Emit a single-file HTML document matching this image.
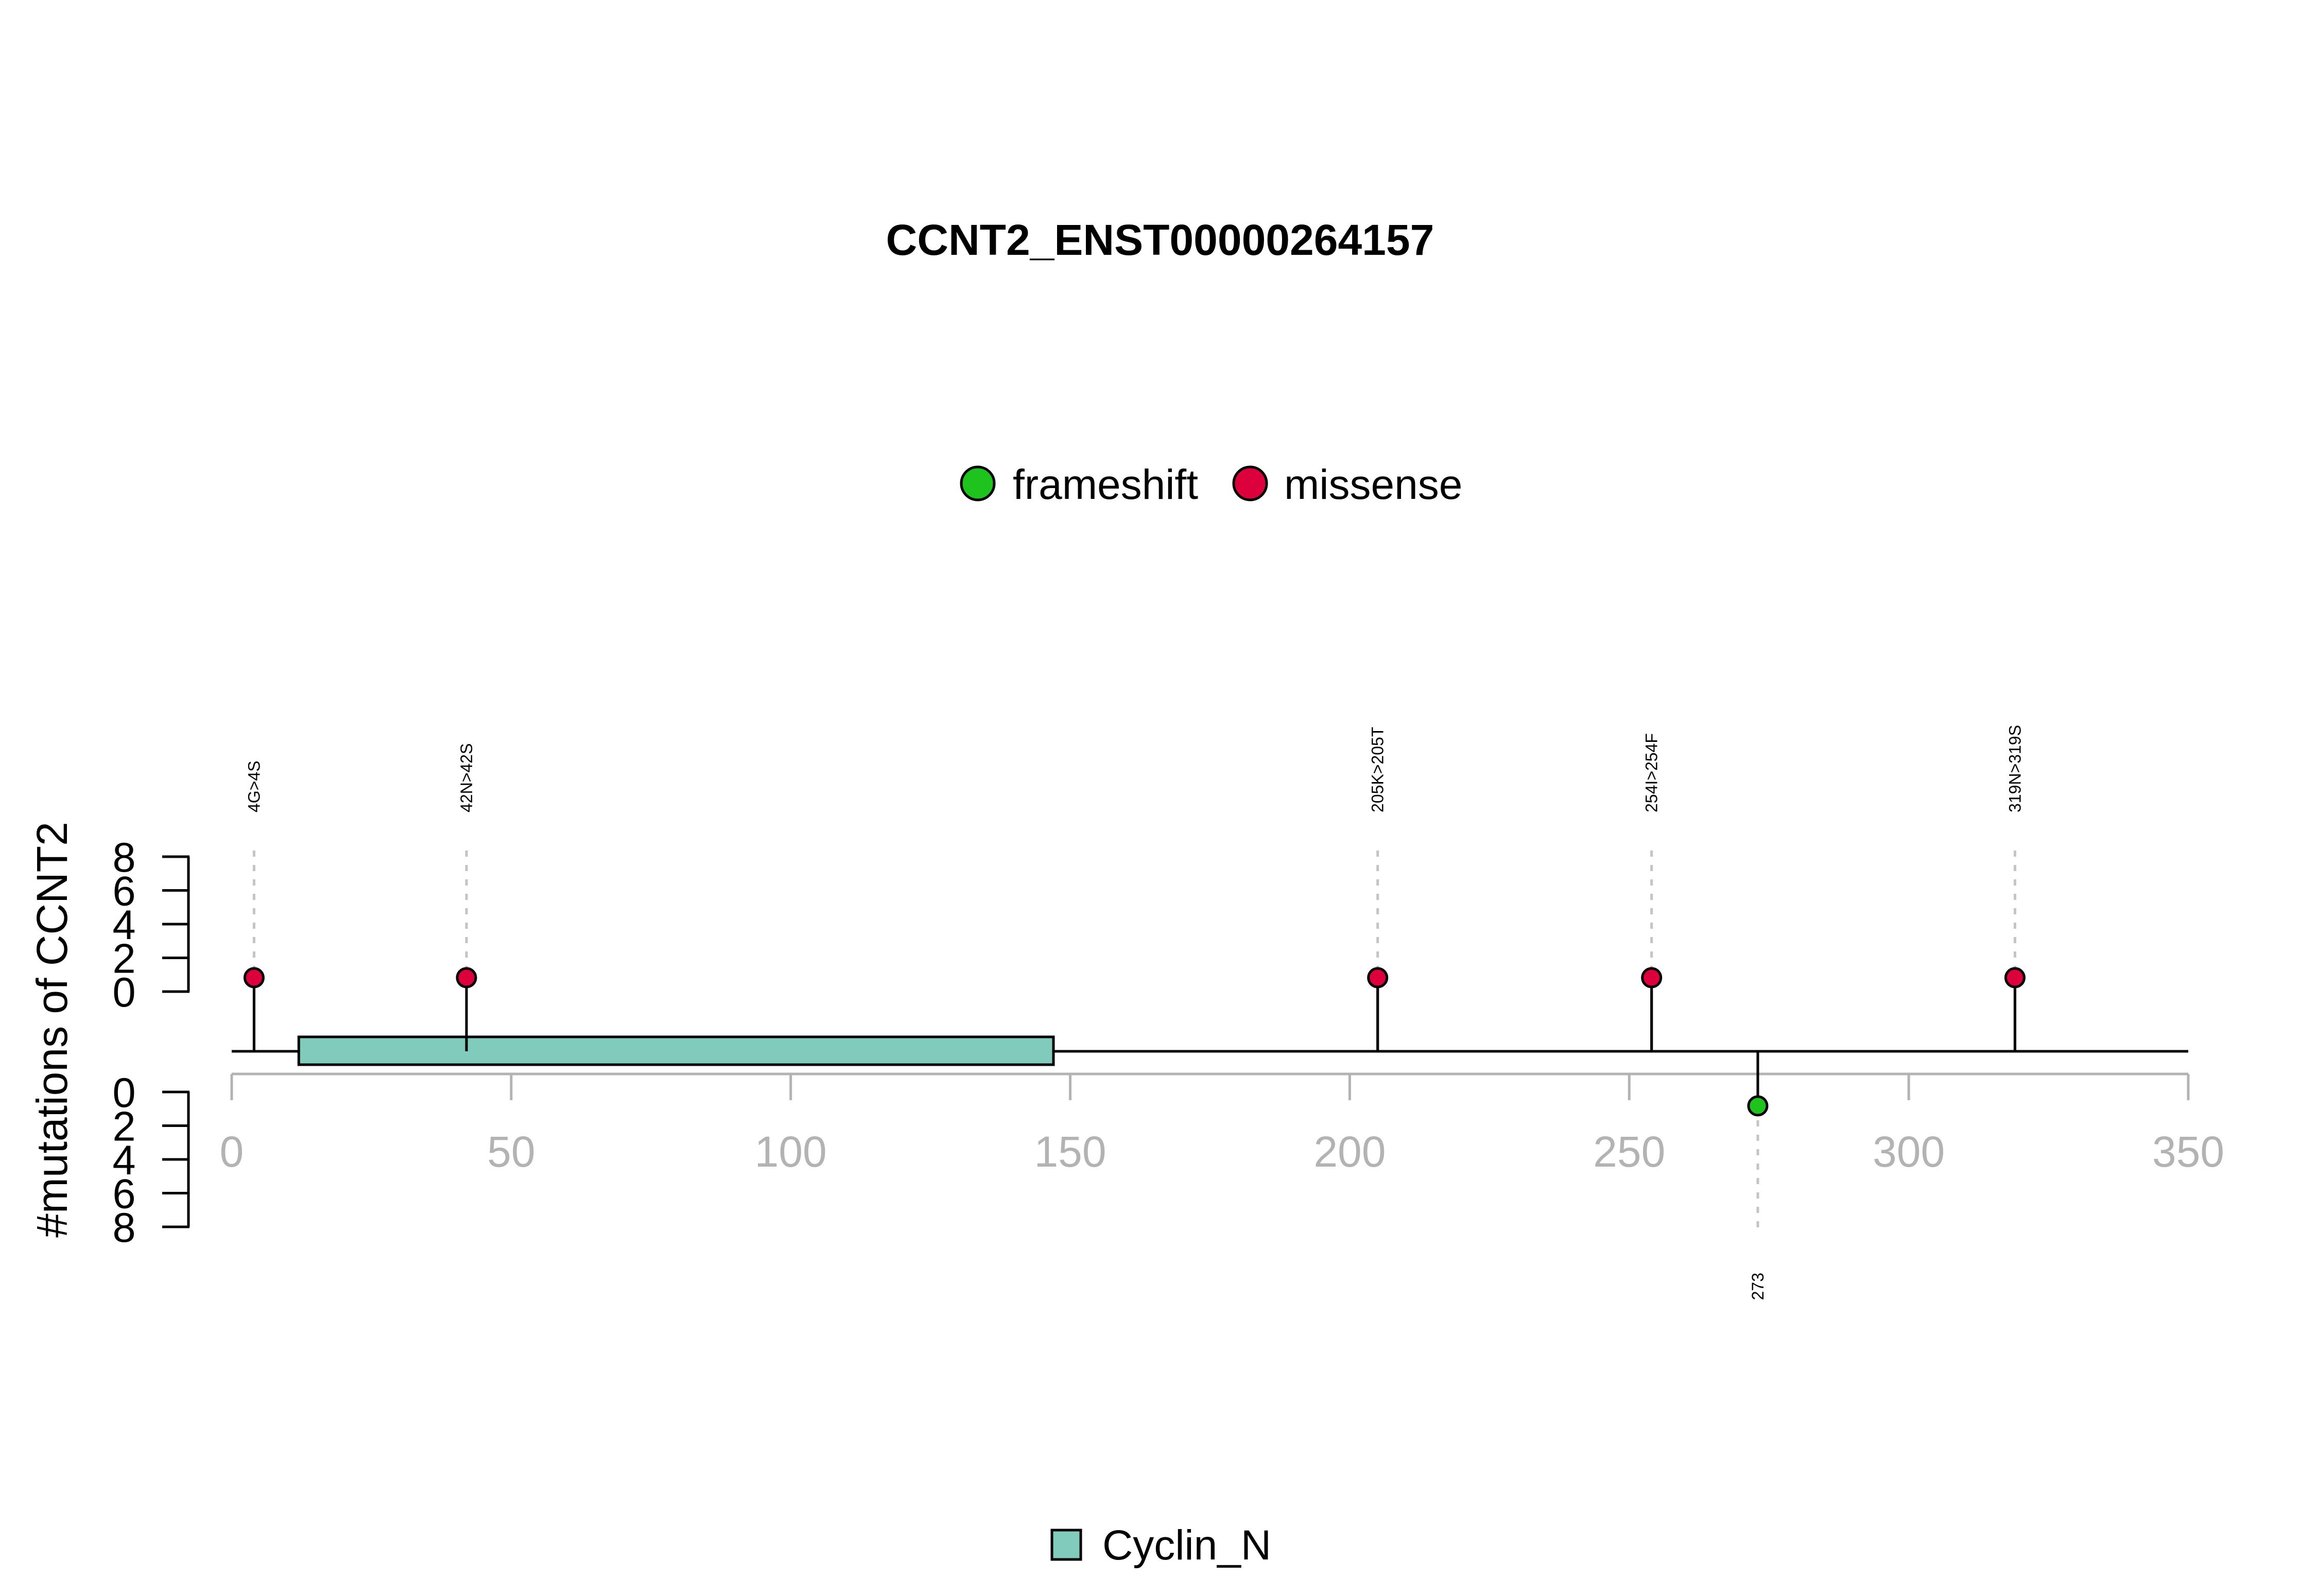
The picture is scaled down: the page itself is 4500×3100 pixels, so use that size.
<!DOCTYPE html>
<html><head><meta charset="utf-8"><style>
html,body{margin:0;padding:0;background:#fff;}
svg{display:block;font-family:"Liberation Sans",Arial,sans-serif;}
</style></head><body>
<svg id="chart" width="4500" height="3100" viewBox="0 0 4500 3100" xmlns="http://www.w3.org/2000/svg">
<rect width="4500" height="3100" fill="#fff"/>
<text x="2253" y="495" font-size="84" font-weight="bold" text-anchor="middle">CCNT2_ENST00000264157</text>
<g>
<g>
<circle cx="1899" cy="939" r="32" fill="#1ec31e" stroke="#000" stroke-width="5"/>
<text x="1967" y="969" font-size="82">frameshift</text>
</g>
<g>
<circle cx="2428" cy="939" r="32" fill="#dc003c" stroke="#000" stroke-width="5"/>
<text x="2494" y="969" font-size="82">missense</text>
</g>
</g>
<text transform="translate(130,2000) rotate(-90)" font-size="84" text-anchor="middle">#mutations of CCNT2</text>
<g id="plot"></g>
<g>
<g>
<rect x="2043" y="2972" width="56" height="57" fill="#80cbbb" stroke="#000" stroke-width="5"/>
<text x="2141" y="3029" font-size="82">Cyclin_N</text>
</g>
</g>
</svg>
<script>
const positions = [4, 42, 205, 254, 319, 273];
const labels = ["4G>4S", "42N>42S", "205K>205T", "254I>254F", "319N>319S", "273"];
const types = ["missense", "missense", "missense", "missense", "missense", "frameshift"];
const counts = [1, 1, 1, 1, 1, 1];
const domainNames = ["Cyclin_N"];
const domainStarts = [12];
const domainEnds = [147];
const xTicks = [0, 50, 100, 150, 200, 250, 300, 350];
const yTicks = [0, 2, 4, 6, 8];
const proteinLength = 350;

const NS = "http://www.w3.org/2000/svg";
const plot = document.getElementById("plot");
const X0 = 450, XS = 10.857;
const xScale = v => X0 + v * XS;
const BACK = 2042;
const UP0 = 1926, LO0 = 2121, YU = 32.75;
const yUp = v => UP0 - v * YU;
const yLo = v => LO0 + v * YU;
const colors = {missense: "#dc003c", frameshift: "#1ec31e"};
function mk(tag, attrs) {
  const e = document.createElementNS(NS, tag);
  for (const k in attrs) e.setAttribute(k, attrs[k]);
  plot.appendChild(e);
  return e;
}
let e = mk("line", {x1: 366, x2: 366, y1: yUp(8), y2: yUp(0), stroke: "#000", "stroke-width": 5});


e = mk("line", {x1: 366, x2: 366, y1: yLo(0), y2: yLo(8), stroke: "#000", "stroke-width": 5});


yTicks.forEach(t => {
  let a = mk("line", {x1: 315, x2: 368, y1: yUp(t), y2: yUp(t), stroke: "#000", "stroke-width": 5});
  
  
  let l = mk("text", {x: 241, y: yUp(t) + 29, "font-size": 81, "text-anchor": "middle"});
  l.textContent = t;
  
  
  let b = mk("line", {x1: 315, x2: 368, y1: yLo(t), y2: yLo(t), stroke: "#000", "stroke-width": 5});
  
  
  let m = mk("text", {x: 241, y: yLo(t) + 29, "font-size": 81, "text-anchor": "middle"});
  m.textContent = t;
  
  
});
e = mk("line", {x1: xScale(0), x2: xScale(proteinLength), y1: 2086, y2: 2086, stroke: "#b3b3b3", "stroke-width": 5});


xTicks.forEach(t => {
  let a = mk("line", {x1: xScale(t), x2: xScale(t), y1: 2086, y2: 2137, stroke: "#b3b3b3", "stroke-width": 5});
  
  
  let l = mk("text", {x: xScale(t), y: 2266, "font-size": 84, "text-anchor": "middle", fill: "#b3b3b3"});
  l.textContent = t;
  
  
});
e = mk("line", {x1: xScale(0), x2: xScale(proteinLength), y1: BACK, y2: BACK, stroke: "#000", "stroke-width": 5});


const UPH = 143, LOH = 106;
positions.forEach((p, i) => {
  const up = types[i] !== "frameshift";
  const x = xScale(p);
  const cy = up ? BACK - counts[i] * UPH : BACK + counts[i] * LOH;
  const dash = up ? mk("line", {x1: x, x2: x, y1: 1652, y2: cy, stroke: "#c4c4c4", "stroke-width": 5, "stroke-dasharray": "12 16"})
                  : mk("line", {x1: x, x2: x, y1: cy, y2: 2398, stroke: "#c4c4c4", "stroke-width": 5, "stroke-dasharray": "12 16"});
  
  
  const s = mk("line", {x1: x, x2: x, y1: BACK, y2: cy, stroke: "#000", "stroke-width": 5});
  
  
  const lab = up ? mk("text", {transform: `translate(${x + 11},1578) rotate(-90)`, "font-size": 32})
                 : mk("text", {transform: `translate(${x + 11},2472) rotate(-90)`, "font-size": 32, "text-anchor": "end"});
  lab.textContent = labels[i];
  
  
  window["_pt" + i] = [x, cy];
});
domainNames.forEach((d, i) => {
  const r = mk("rect", {x: xScale(domainStarts[i]), y: 2014, width: xScale(domainEnds[i]) - xScale(domainStarts[i]), height: 54, fill: "#80cbbb", stroke: "#000", "stroke-width": 5});
  
  
});
positions.forEach((p, i) => {
  const [x, cy] = window["_pt" + i];
  const s = mk("line", {x1: x, x2: x, y1: BACK, y2: cy, stroke: "#000", "stroke-width": 5});
  
  
  const c = mk("circle", {cx: x, cy: cy, r: 18, fill: colors[types[i]], stroke: "#000", "stroke-width": 5});
  
  
});
</script>
</body></html>
